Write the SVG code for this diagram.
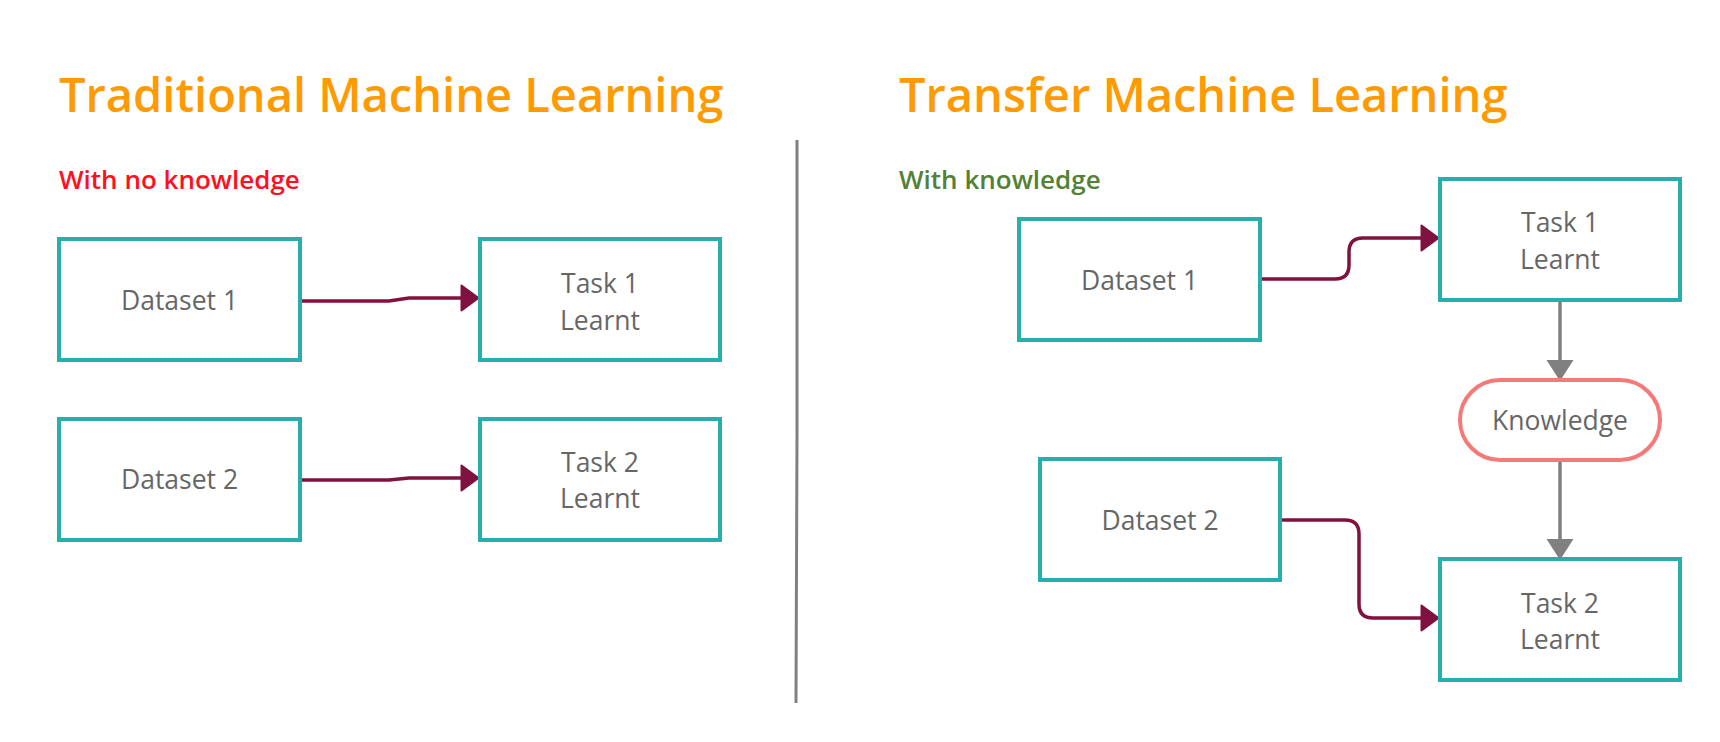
<svg xmlns="http://www.w3.org/2000/svg" width="1720" height="742" viewBox="0 0 1720 742">
<style>
.title{font-family:"Open Sans","Noto Sans",sans-serif;font-weight:600;font-size:47px;fill:#ff9a00}
.sub{font-family:"Open Sans","Noto Sans",sans-serif;font-weight:600;font-size:26px}
.box{fill:#ffffff;stroke:#26afad;stroke-width:4}
.pill{fill:#ffffff;stroke:#f47a7a;stroke-width:4}
.lbl{font-family:"Open Sans","Noto Sans",sans-serif;font-size:26.5px;fill:#666666;text-anchor:middle}
.mar{fill:none;stroke:#80123f;stroke-width:3.5}
.gry{fill:none;stroke:#808080;stroke-width:3.5}
</style>
<defs>
<marker id="am" viewBox="0 0 20 28" refX="1" refY="14" markerUnits="userSpaceOnUse" markerWidth="20" markerHeight="28" orient="auto">
<path d="M1.5,1.5 L18.5,14 L1.5,26.5 z" fill="#80123f" stroke="#80123f" stroke-width="2" stroke-linejoin="round"/>
</marker>
<marker id="ag" viewBox="0 0 21 28" refX="0" refY="14" markerUnits="userSpaceOnUse" markerWidth="21" markerHeight="28" orient="auto">
<path d="M0,0.5 L21,14 L0,27.5 z" fill="#808080"/>
</marker>
</defs>
<rect width="1720" height="742" fill="#ffffff"/>
<g id="titles">
<text class="title" x="59" y="112">Traditional Machine Learning</text>
<text class="title" x="899" y="112">Transfer Machine Learning</text>
<text class="sub" x="59" y="189" fill="#ff1020">With no knowledge</text>
<text class="sub" x="899" y="189" fill="#538135">With knowledge</text>
</g>
<g id="divider">
<path d="M797,140 L797,434 L796,703" fill="none" stroke="#808080" stroke-width="3"/>
</g>
<g id="connectors">
<path class="mar" d="M300,301 L389,301 L409,298 L461,298" marker-end="url(#am)"/>
<path class="mar" d="M300,480 L389,480 L409,478 L461,478" marker-end="url(#am)"/>
<path class="mar" d="M1260,279 L1335,279 Q1349,279 1349,265 L1349,252 Q1349,238 1363,238 L1421,238" marker-end="url(#am)"/>
<path class="mar" d="M1280,520 L1345,520 Q1359,520 1359,534 L1359,604 Q1359,618 1373,618 L1421,618" marker-end="url(#am)"/>
<path class="gry" d="M1560,300 L1560,360" marker-end="url(#ag)"/>
<path class="gry" d="M1560,460 L1560,539" marker-end="url(#ag)"/>
</g>
<g id="dataset1-left">
<rect class="box" x="59" y="239" width="241" height="121"/>
<text class="lbl" x="179.5" y="310">Dataset 1</text>
</g>
<g id="task1-left">
<rect class="box" x="480" y="239" width="240" height="121"/>
<text class="lbl" x="600" y="293">Task 1</text>
<text class="lbl" x="600" y="330">Learnt</text>
</g>
<g id="dataset2-left">
<rect class="box" x="59" y="419" width="241" height="121"/>
<text class="lbl" x="179.5" y="489">Dataset 2</text>
</g>
<g id="task2-left">
<rect class="box" x="480" y="419" width="240" height="121"/>
<text class="lbl" x="600" y="472">Task 2</text>
<text class="lbl" x="600" y="508">Learnt</text>
</g>
<g id="dataset1-right">
<rect class="box" x="1019" y="219" width="241" height="121"/>
<text class="lbl" x="1139.5" y="290">Dataset 1</text>
</g>
<g id="task1-right">
<rect class="box" x="1440" y="179" width="240" height="121"/>
<text class="lbl" x="1560" y="232">Task 1</text>
<text class="lbl" x="1560" y="269">Learnt</text>
</g>
<g id="knowledge">
<rect class="pill" x="1460" y="380" width="200" height="80" rx="40" ry="40"/>
<text class="lbl" x="1560" y="430">Knowledge</text>
</g>
<g id="dataset2-right">
<rect class="box" x="1040" y="459" width="240" height="121"/>
<text class="lbl" x="1160" y="530">Dataset 2</text>
</g>
<g id="task2-right">
<rect class="box" x="1440" y="559" width="240" height="121"/>
<text class="lbl" x="1560" y="613">Task 2</text>
<text class="lbl" x="1560" y="649">Learnt</text>
</g>
</svg>
